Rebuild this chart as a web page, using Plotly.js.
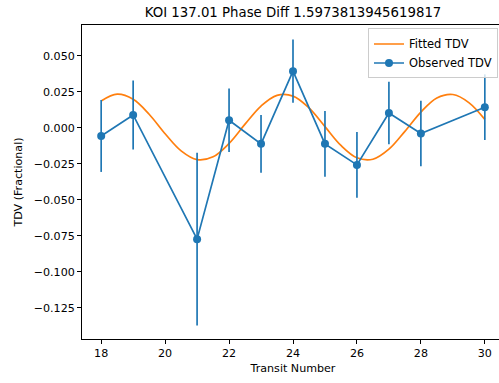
<!DOCTYPE html>
<html>
<head>
<meta charset="utf-8">
<script src="https://cdn.plot.ly/plotly-3.0.1.min.js"></script>
<style>
html, body { margin: 0; padding: 0; overflow: hidden; background: #fff; }
#chart { width: 505px; height: 383px; }
</style>
</head>
<body>
<div id="chart"></div>
<script>
// Observed TDV
const transitNumbers = [18, 19, 21, 22, 23, 24, 25, 26, 27, 28, 30];
const observedTDV = [-0.0056, 0.0090, -0.0773, 0.0053, -0.0111, 0.0394, -0.0111, -0.0257, 0.0104, -0.0039, 0.0144];
const observedErr = [0.0250, 0.0240, 0.0600, 0.0220, 0.0200, 0.0220, 0.0228, 0.0228, 0.0217, 0.0228, 0.0228];

// Fitted TDV
const fitX = [18, 18.5, 19, 19.5, 20, 20.5, 21, 21.5, 22, 22.5, 23, 23.5, 24, 24.5, 25, 25.5, 26, 26.5, 27, 27.5, 28, 28.5, 29, 29.5, 30];
const fitTDV = [0.0187, 0.0234, 0.0199, 0.0095, -0.0041, -0.0160, -0.0221, -0.0201, -0.0108, 0.0026, 0.0152, 0.0226, 0.0221, 0.0139, 0.0009, -0.0122, -0.0208, -0.0218, -0.0148, -0.0024, 0.0110, 0.0208, 0.0232, 0.0176, 0.0059];

const yTicks = [-0.125, -0.100, -0.075, -0.050, -0.025, 0.000, 0.025, 0.050];
const xTicks = [18, 20, 22, 24, 26, 28, 30];

const FONT = "DejaVu Sans, sans-serif";

const traces = [
  {
    x: fitX, y: fitTDV, type: 'scatter', mode: 'lines', name: 'Fitted TDV',
    line: { color: '#ff7f0e', width: 1.7, shape: 'spline', smoothing: 1 }
  },
  {
    x: transitNumbers, y: observedTDV, type: 'scatter', mode: 'lines+markers', name: 'Observed TDV',
    line: { color: '#1f77b4', width: 1.7 },
    marker: { color: '#1f77b4', size: 8 },
    error_y: { type: 'data', array: observedErr, visible: true, color: '#1f77b4', thickness: 1.7, width: 0 }
  }
];

const layout = {
  width: 505, height: 383,
  margin: { l: 82, r: 1, t: 24.5, b: 44 },
  paper_bgcolor: '#fff', plot_bgcolor: '#fff',
  font: { family: FONT, size: 11.1, color: '#000' },
  title: { text: 'KOI 137.01 Phase Diff 1.5973813945619817', font: { family: FONT, size: 13.3, color: '#000' },
           x: 0.5, xref: 'paper', y: 1 - 12 / 383, yref: 'container', yanchor: 'middle' },
  xaxis: {
    range: [17.4, 30.6], tickvals: xTicks, ticktext: xTicks.map(String),
    showline: true, mirror: true, linecolor: '#000', linewidth: 1,
    ticks: 'outside', ticklen: 4, tickcolor: '#000', showgrid: false, zeroline: false,
    tickfont: { family: FONT, size: 11.1, color: '#000' },
    title: { text: 'Transit Number', font: { family: FONT, size: 11.1, color: '#000' }, standoff: 4 }
  },
  yaxis: {
    range: [-0.1467, 0.0715], tickvals: yTicks, ticktext: yTicks.map(v => (v < 0 ? '\u2212' : '') + Math.abs(v).toFixed(3)),
    showline: true, mirror: true, linecolor: '#000', linewidth: 1,
    ticks: 'outside', ticklen: 4, tickcolor: '#000', showgrid: false, zeroline: false,
    tickfont: { family: FONT, size: 11.1, color: '#000' },
    title: { text: 'TDV (Fractional)', font: { family: FONT, size: 11.1, color: '#000' }, standoff: 8 }
  },
  showlegend: true,
  legend: {
    x: (498 - 82) / 422, xanchor: 'right', y: (339 - 28) / 314.5, yanchor: 'top',
    bgcolor: 'rgba(255,255,255,0.8)', bordercolor: '#ccc', borderwidth: 1,
    font: { family: FONT, size: 11.5, color: '#000' }, itemwidth: 30, tracegroupgap: 0
  }
};

Plotly.newPlot('chart', traces, layout, { displayModeBar: false, staticPlot: true });
</script>
</body>
</html>
